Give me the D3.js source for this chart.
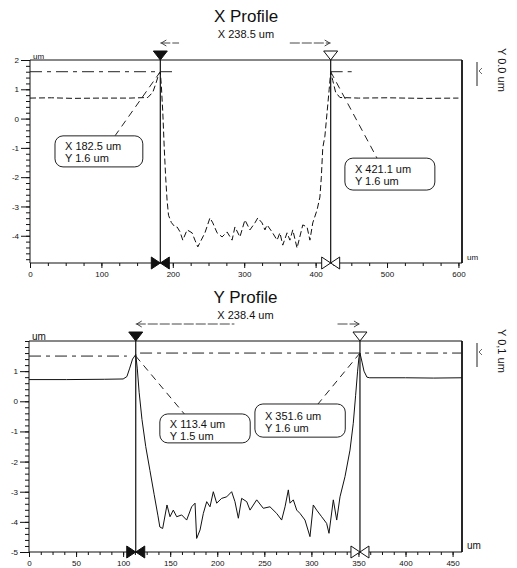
<!DOCTYPE html>
<html>
<head>
<meta charset="utf-8">
<script src="https://cdn.jsdelivr.net/npm/d3@7"></script>
<style>
body { margin: 0; background: #fff; }
text { font-family: "Liberation Sans", Arial, sans-serif; fill: #111; }
</style>
</head>
<body>
<div id="chart"></div>
<script>

// X profile trace (um / um)
var xProfX = [0, 30, 60, 100, 140, 165, 172, 177, 180, 182.5, 184, 186, 188, 190, 192, 194, 198, 203, 206, 210,
    214, 220, 227, 231, 235, 245, 252, 256, 262, 269, 276, 283, 287, 294, 301, 308, 315, 319, 325, 329,
    332, 339, 346, 350, 354, 360, 364, 368, 374, 382, 388, 392, 396, 402, 406, 408, 410, 413, 416, 419,
    421.1, 424, 428, 434, 460, 500, 550, 600];
var xProfY = [0.70, 0.71, 0.69, 0.70, 0.70, 0.72, 0.90, 1.25, 1.50, 1.60, 1.10, 0.20, -1.00, -2.00, -2.80, -3.30, -3.55, -3.70, -3.70, -3.86,
    -4.15, -3.80, -3.90, -4.15, -4.38, -3.90, -3.39, -3.56, -3.90, -4.04, -3.87, -4.15, -3.70, -4.04, -3.46, -3.80, -3.56, -3.39, -3.56, -3.80,
    -3.63, -3.87, -4.15, -3.90, -4.32, -3.90, -4.15, -3.80, -4.42, -3.63, -3.70, -4.15, -3.56, -3.12, -2.68, -2.00, -1.00, -0.60, 0.20, 1.00,
    1.60, 1.30, 0.90, 0.72, 0.70, 0.71, 0.69, 0.70];

// Y profile trace (um / um)
var yProfX = [0, 40, 80, 100, 104, 107, 110, 113.4, 115, 117, 120, 124, 128.5, 133, 137, 139, 142, 146.6, 149.8, 153.3,
    156.9, 162.2, 167.5, 172.8, 176.4, 178.1, 181.7, 185.2, 188.8, 192.3, 195.8, 199.4, 204.7, 210, 215.3, 218.8, 222.4, 225.9, 231.3, 234.8,
    241.9, 248.9, 256, 263.1, 268.4, 272, 275.5, 277.3, 280.8, 284.4, 287.9, 293.2, 298.5, 302, 305.6, 310.9, 316.2, 318.7, 323.3, 326.9,
    330.4, 335.7, 341, 344.5, 347, 349.1, 350.5, 351.6, 353.8, 355.9, 359, 362, 400, 430, 460];
var yProfY = [0.72, 0.72, 0.73, 0.74, 0.82, 1.10, 1.40, 1.55, 1.10, 0.30, -0.60, -1.50, -2.30, -3.10, -3.80, -4.17, -4.22, -3.44, -3.83, -3.61,
    -3.83, -3.77, -3.94, -3.50, -3.38, -4.55, -4.27, -3.72, -3.33, -3.50, -3.00, -3.38, -3.22, -3.17, -3.00, -3.33, -3.88, -3.22, -3.33, -3.61,
    -3.27, -3.55, -3.50, -3.72, -3.94, -3.50, -2.94, -3.38, -3.27, -3.61, -3.72, -3.94, -4.49, -3.44, -3.61, -3.83, -4.05, -4.38, -3.27, -3.94,
    -3.17, -2.50, -1.62, -0.73, 0.20, 1.00, 1.45, 1.60, 1.30, 1.00, 0.80, 0.78, 0.78, 0.77, 0.78];

// titles
var titles = ['X Profile', 'Y Profile'];
var subTitles = ['X 238.5 um', 'X 238.4 um'];
var sideLabels = ['Y 0.0 um', 'Y 0,1 um'];

// cursors
var xCursorX = [182.5, 421.1];
var xCursorY = [1.6, 1.6];
var yCursorX = [113.4, 351.6];
var yCursorY = [1.5, 1.6];

// ticks
var xTicksX = [0, 100, 200, 300, 400, 500, 600];
var xTicksY = [0, 50, 100, 150, 200, 250, 300, 350, 400, 450];
var yTicksX = [2, 1, 0, -1, -2, -3, -4];
var yTicksY = [1, 0, -1, -2, -3, -4, -5];

// callout boxes [x0, x1, yTop, yBottom] in data units, leader end [x, y]
var xBoxes = [[35, 158, -0.59, -1.65], [441, 567, -1.35, -2.44]];
var xLeads = [[119, -0.59], [486, -1.35]];
var yBoxes = [[139, 235, -0.42, -1.38], [240, 336, -0.09, -1.19]];
var yLeads = [[165, -0.42], [307, -0.09]];

// visible pieces of the cursor lines (um)
var xCursorSegs = [[0, 199], [421.1, 457]];
var yCursorSegs = [[0, 104], [118, 460]];

// svg container
var width = 517, height = 568;
var svg = d3.select('#chart').append('svg')
    .attr('width', width)
    .attr('height', height);

var panels = [
    {
        title: titles[0], sub: subTitles[0], side: sideLabels[0],
        px: xProfX, py: xProfY, cx: xCursorX, cy: xCursorY,
        xTicks: xTicksX, yTicks: yTicksX, xMinor: 25,
        xDomain: [0, 605], yDomain: [-4.93, 2],
        left: 30, right: 462, top: 60, bottom: 263,
        boxes: xBoxes, leads: xLeads, segs: xCursorSegs,
        dim: [[0, 0.11], [0.76, 1]],
        dash: '6,3', unitSize: 8
    },
    {
        title: titles[1], sub: subTitles[1], side: sideLabels[1],
        px: yProfX, py: yProfY, cx: yCursorX, cy: yCursorY,
        xTicks: xTicksY, yTicks: yTicksY, xMinor: 12.5,
        xDomain: [0, 460], yDomain: [-5, 2],
        left: 29, right: 462, top: 341, bottom: 552,
        boxes: yBoxes, leads: yLeads, segs: yCursorSegs,
        dim: [[0, 0.44], [0.9, 1]],
        dash: null, unitSize: 10
    }
];

panels.forEach(drawPanel);

function drawPanel(p) {
    var x = d3.scaleLinear().domain(p.xDomain).range([p.left, p.right]);
    var y = d3.scaleLinear().domain(p.yDomain).range([p.bottom, p.top]);
    var g = svg.append('g');
    var midX = (p.left + p.right) / 2;

    // titles
    g.append('text').attr('x', midX).attr('y', p.top - 38)
        .attr('text-anchor', 'middle').style('font-size', '17px').text(p.title);
    g.append('text').attr('x', midX).attr('y', p.top - 22)
        .attr('text-anchor', 'middle').style('font-size', '11px').text(p.sub);

    // side label
    g.append('text')
        .attr('transform', `translate(${p.right + 36}, ${p.top - 12}) rotate(90)`)
        .style('font-size', '11px').text(p.side);

    // little delta-y mark
    var mx = p.right + 15;
    g.append('line').attr('x1', mx).attr('x2', mx)
        .attr('y1', p.top + 2).attr('y2', p.top + 26)
        .attr('stroke', '#222').attr('stroke-width', 1);
    g.append('path')
        .attr('d', `M${mx + 5},${p.top + 8} L${mx + 2},${p.top + 11} L${mx + 5},${p.top + 14}`)
        .attr('fill', 'none').attr('stroke', '#444').attr('stroke-width', 0.8);

    // minor ticks x
    var xMinorAxis = d3.axisBottom(x)
        .tickValues(d3.range(0, p.xDomain[1] + 0.01, p.xMinor))
        .tickSize(3).tickFormat('');
    var gxm = g.append('g').attr('transform', `translate(0, ${p.bottom})`).call(xMinorAxis);
    gxm.select('.domain').remove();

    // major ticks x
    var xAxis = d3.axisBottom(x).tickValues(p.xTicks).tickSize(5).tickPadding(3)
        .tickFormat(d => String(d));
    var gx = g.append('g').attr('transform', `translate(0, ${p.bottom})`).call(xAxis);
    gx.select('.domain').remove();

    // minor ticks y
    var yMinorAxis = d3.axisLeft(y)
        .tickValues(d3.range(-5, 2.01, 0.2).filter(v => v >= p.yDomain[0] - 0.001))
        .tickSize(4).tickFormat('');
    var gym = g.append('g').attr('transform', `translate(${p.left}, 0)`).call(yMinorAxis);
    gym.select('.domain').remove();

    // major ticks y
    var yAxis = d3.axisLeft(y).tickValues(p.yTicks).tickSize(9).tickPadding(2)
        .tickFormat(d => String(d));
    var gy = g.append('g').attr('transform', `translate(${p.left}, 0)`).call(yAxis);
    gy.select('.domain').remove();

    svg.selectAll('.tick text').style('font-size', '8px')
        .style('font-family', '"Liberation Sans", Arial, sans-serif').attr('fill', '#111');
    svg.selectAll('.tick line').attr('stroke', '#111');

    // plot frame
    g.append('path')
        .attr('d', `M${p.left},${p.bottom} L${p.left},${p.top} L${p.right},${p.top} L${p.right},${p.bottom}`)
        .attr('fill', 'none').attr('stroke', '#111').attr('stroke-width', 1);
    g.append('line').attr('x1', p.left).attr('x2', p.right)
        .attr('y1', p.bottom).attr('y2', p.bottom)
        .attr('stroke', '#111').attr('stroke-width', 1.2);
    g.append('line').attr('x1', p.right).attr('x2', p.right)
        .attr('y1', p.top).attr('y2', p.bottom)
        .attr('stroke', '#111').attr('stroke-width', 1.6);

    // units
    g.append('text').attr('x', p.left + 3).attr('y', p.top - 1)
        .style('font-size', p.unitSize + 'px').text('um');
    g.append('text').attr('x', p.right + 5).attr('y', p.bottom - 3)
        .style('font-size', p.unitSize + 'px').text('um');

    // cursor horizontal lines
    p.segs.forEach(function (s, i) {
        g.append('line')
            .attr('x1', x(s[0])).attr('x2', x(s[1]))
            .attr('y1', y(p.cy[i])).attr('y2', y(p.cy[i]))
            .attr('stroke', '#222').attr('stroke-width', 1)
            .attr('stroke-dasharray', '12,5,4,5');
    });

    // profile
    var pts = p.px.map((d, i) => [d, p.py[i]]);
    var line = d3.line().x(d => x(d[0])).y(d => y(d[1]));
    var prof = g.append('path').datum(pts)
        .attr('d', line)
        .attr('fill', 'none').attr('stroke', '#111').attr('stroke-width', 1);
    if (p.dash) prof.attr('stroke-dasharray', p.dash);

    // cursor vertical lines and markers
    p.cx.forEach(function (c, i) {
        var cx = x(c);
        g.append('line').attr('x1', cx).attr('x2', cx)
            .attr('y1', p.top - 8).attr('y2', p.bottom)
            .attr('stroke', '#111').attr('stroke-width', 1.2);
        var fill = i === 0 ? '#111' : '#fff';
        g.append('path')
            .attr('d', `M${cx - 7},${p.top - 9} L${cx + 7},${p.top - 9} L${cx},${p.top} Z`)
            .attr('fill', fill).attr('stroke', '#111').attr('stroke-width', 1);
        g.append('path')
            .attr('d', `M${cx - 9},${p.bottom - 6} L${cx},${p.bottom} L${cx - 9},${p.bottom + 6} Z` +
                `M${cx + 9},${p.bottom - 6} L${cx},${p.bottom} L${cx + 9},${p.bottom + 6} Z`)
            .attr('fill', fill).attr('stroke', '#111').attr('stroke-width', 1);
    });

    // dimension arrow between cursors
    var ax1 = x(p.cx[0]), ax2 = x(p.cx[1]), ay = p.top - 17;
    p.dim.forEach(function (s) {
        g.append('line')
            .attr('x1', ax1 + (ax2 - ax1) * s[0]).attr('x2', ax1 + (ax2 - ax1) * s[1])
            .attr('y1', ay).attr('y2', ay)
            .attr('stroke', '#333').attr('stroke-width', 0.9)
            .attr('stroke-dasharray', '10,2');
    });
    g.append('path').attr('d', `M${ax1 + 6},${ay - 3} L${ax1 + 1},${ay} L${ax1 + 6},${ay + 3}`)
        .attr('fill', 'none').attr('stroke', '#333').attr('stroke-width', 0.9);
    g.append('path').attr('d', `M${ax2 - 6},${ay - 3} L${ax2 - 1},${ay} L${ax2 - 6},${ay + 3}`)
        .attr('fill', 'none').attr('stroke', '#333').attr('stroke-width', 0.9);

    // callouts
    p.boxes.forEach(function (b, i) {
        var bx = x(b[0]), bw = x(b[1]) - x(b[0]);
        var by = y(b[2]), bh = y(b[3]) - y(b[2]);
        g.append('line')
            .attr('x1', x(p.cx[i])).attr('y1', y(p.cy[i]))
            .attr('x2', x(p.leads[i][0])).attr('y2', y(p.leads[i][1]))
            .attr('stroke', '#222').attr('stroke-width', 1)
            .attr('stroke-dasharray', '7,5');
        g.append('rect')
            .attr('x', bx).attr('y', by).attr('width', bw).attr('height', bh)
            .attr('rx', 8).attr('ry', 8)
            .attr('fill', '#fff').attr('stroke', '#222').attr('stroke-width', 1);
        var tx = bx + 10, ty = by + bh * 0.47;
        g.append('text').attr('x', tx).attr('y', ty)
            .style('font-size', '11px').text('X  ' + p.cx[i].toFixed(1) + ' um');
        g.append('text').attr('x', tx).attr('y', ty + 12)
            .style('font-size', '11px').text('Y  ' + p.cy[i].toFixed(1) + ' um');
    });
}
</script>
</body>
</html>
